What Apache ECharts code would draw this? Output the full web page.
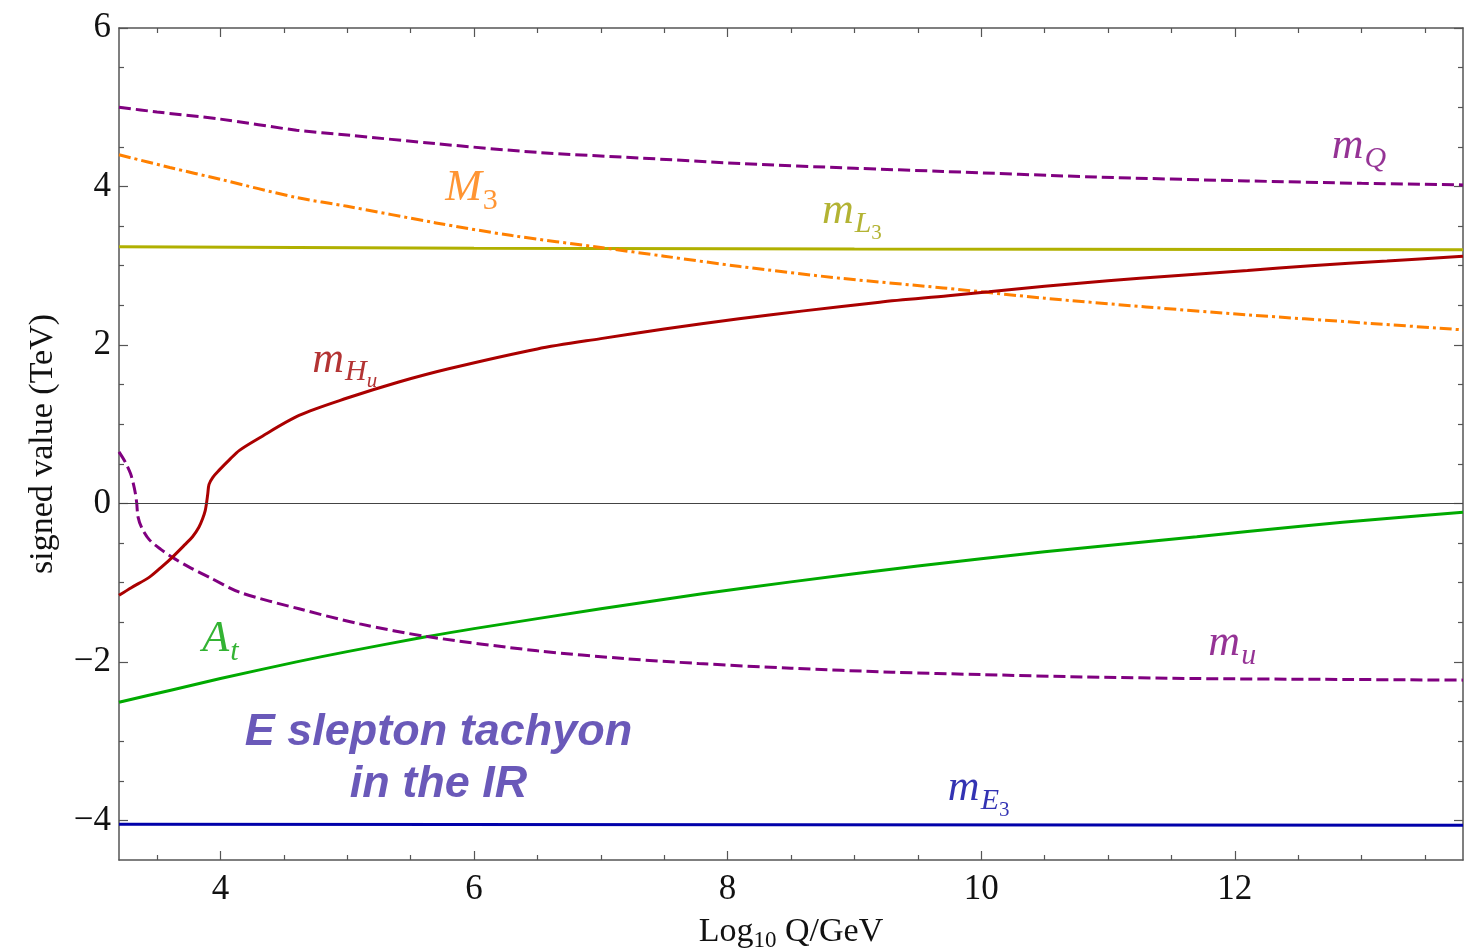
<!DOCTYPE html>
<html>
<head>
<meta charset="utf-8">
<script src="https://cdn.jsdelivr.net/npm/echarts@6/dist/echarts.min.js"></script>
<style>
html,body{margin:0;padding:0;background:#fff;}
#chart{width:1464px;height:948px;}
</style>
</head>
<body>
<div id="chart"></div>
<script>
// ---------- data ----------
const xMajorTicks = [4, 6, 8, 10, 12];
const xMinorTicks = [3.5, 4.5, 5, 5.5, 6.5, 7, 7.5, 8.5, 9, 9.5, 10.5, 11, 11.5, 12.5, 13, 13.5];
const yMajorTicks = [-4, -2, 0, 2, 4, 6];
const yMinorTicks = [-3.5, -3, -2.5, -1.5, -1, -0.5, 0.5, 1, 1.5, 2.5, 3, 3.5, 4.5, 5, 5.5];

const mQ_x = [3.2, 3.5, 4, 4.6, 5, 5.7, 6.5, 7.3, 8.1, 9, 9.7, 10.9, 12.1, 13, 13.8];
const mQ_y = [5.00, 4.94, 4.85, 4.71, 4.65, 4.54, 4.43, 4.36, 4.29, 4.23, 4.19, 4.12, 4.07, 4.04, 4.02];

const M3_x = [3.2, 3.6, 4, 4.6, 5, 5.7, 6.3, 7, 7.5, 8.1, 8.9, 9.7, 10.5, 11.3, 12.1, 13, 13.8];
const M3_y = [4.40, 4.24, 4.09, 3.86, 3.75, 3.54, 3.38, 3.23, 3.12, 2.99, 2.84, 2.72, 2.59, 2.48, 2.38, 2.28, 2.19];

const mL3_x = [3.2, 6, 9, 13.8];
const mL3_y = [3.24, 3.22, 3.21, 3.20];

const mHu_x = [3.2, 3.3, 3.44, 3.53, 3.62, 3.72, 3.78, 3.83, 3.86, 3.88, 3.89, 3.9, 3.91, 3.94, 3.99, 4.07, 4.15, 4.3, 4.62, 5, 5.4, 5.8, 6.5, 7, 7.5, 8.09, 8.6, 9.2, 9.74, 10.06, 10.5, 11, 11.5, 12.1, 12.6, 13.2, 13.8];
const mHu_y = [-1.16, -1.06, -0.93, -0.81, -0.68, -0.52, -0.42, -0.30, -0.19, -0.09, 0, 0.12, 0.24, 0.33, 0.42, 0.55, 0.67, 0.82, 1.11, 1.33, 1.53, 1.70, 1.95, 2.08, 2.20, 2.33, 2.43, 2.54, 2.62, 2.67, 2.74, 2.81, 2.87, 2.94, 3.00, 3.06, 3.12];

const At_x = [3.2, 3.6, 4, 4.6, 5, 5.6, 6, 7, 7.8, 8.5, 9.5, 10.5, 11.7, 12.5, 13.2, 13.8];
const At_y = [-2.51, -2.36, -2.21, -2.00, -1.87, -1.69, -1.58, -1.33, -1.14, -0.99, -0.79, -0.61, -0.42, -0.29, -0.19, -0.11];

const mu_x = [3.2, 3.25, 3.29, 3.31, 3.33, 3.34, 3.35, 3.38, 3.44, 3.53, 3.62, 3.75, 3.91, 4.15, 4.62, 5.1, 5.63, 6.5, 7.2, 7.77, 8.5, 9.3, 10, 10.8, 11.7, 12.7, 13.8];
const mu_y = [0.65, 0.52, 0.38, 0.27, 0.12, 0, -0.17, -0.31, -0.46, -0.58, -0.68, -0.80, -0.93, -1.12, -1.33, -1.52, -1.68, -1.86, -1.96, -2.02, -2.08, -2.13, -2.16, -2.19, -2.21, -2.22, -2.23];

const mE3_x = [3.2, 13.8];
const mE3_y = [-4.05, -4.06];

// curve labels: text and anchor (data coordinates)
const labelText = ['{b|m}{s|Q}', '{b|M}{r|3}', '{b|m}{s|L}{rr|3}', '{b|m}{s|H}{ss|u}', '{b|A}{s|t}', '{b|m}{s|u}', '{b|m}{s|E}{rr|3}'];
const labelX = [12.98, 5.98, 8.98, 4.98, 4.0, 11.98, 9.98];
const labelY = [4.50, 3.97, 3.68, 1.81, -1.72, -1.77, -3.60];
const noteText = 'E slepton tachyon\nin the IR';
const noteX = 5.72, noteY = -3.22;

// ---------- styles ----------
const C = {
  mQ: '#800080', M3: '#FF8000', mL3: '#B0B000', mHu: '#AA0000',
  At: '#00AA00', mu: '#800080', mE3: '#0000AA'
};
const labelColors = ['#7A007A', '#FF7A00', '#A0A000', '#A00000', '#00A000', '#7A007A', '#0000A0'];
const serif = '"Liberation Serif", "DejaVu Serif", serif';
const frame = '#555';

function zip(xs, ys) { return xs.map((x, i) => [x, ys[i]]); }
function minus(v) { return v < 0 ? '\u2212' + Math.abs(v) : String(v); }

function richFor(color) {
  return {
    b:  { fontFamily: serif, fontStyle: 'italic', fontSize: 44, lineHeight: 44, color: color, verticalAlign: 'top' },
    s:  { fontFamily: serif, fontStyle: 'italic', fontSize: 30, lineHeight: 30, color: color, verticalAlign: 'top', padding: [19, 0, 0, 1] },
    r:  { fontFamily: serif, fontSize: 30, lineHeight: 30, color: color, verticalAlign: 'top', padding: [19, 0, 0, 1] },
    ss: { fontFamily: serif, fontStyle: 'italic', fontSize: 21, lineHeight: 21, color: color, verticalAlign: 'top', padding: [33, 0, 0, 0] },
    rr: { fontFamily: serif, fontSize: 21, lineHeight: 21, color: color, verticalAlign: 'top', padding: [33, 0, 0, 0] }
  };
}

function xAxisDef(pos, values, len, withLabel, withLine) {
  return {
    type: 'value', position: pos, min: 3.2, max: 13.8,
    axisLine: { show: withLine, onZero: false, lineStyle: { color: frame, width: 1.5 } },
    axisTick: { show: true, inside: true, length: len, customValues: values, lineStyle: { color: frame, width: 1.2 } },
    axisLabel: withLabel ? { show: true, customValues: values, margin: 12, fontFamily: serif, fontSize: 35, color: '#111', formatter: v => minus(v) } : { show: false },
    splitLine: { show: false }
  };
}
function yAxisDef(pos, values, len, withLabel, withLine) {
  return {
    type: 'value', position: pos, min: -4.5, max: 6,
    axisLine: { show: withLine, onZero: false, lineStyle: { color: frame, width: 1.5 } },
    axisTick: { show: true, inside: true, length: len, customValues: values, lineStyle: { color: frame, width: 1.2 } },
    axisLabel: withLabel ? { show: true, customValues: values, margin: 8, fontFamily: serif, fontSize: 35, color: '#111', formatter: v => minus(v) } : { show: false },
    splitLine: { show: false }
  };
}

const xAxes = [
  xAxisDef('bottom', xMajorTicks, 9, true, true),
  xAxisDef('bottom', xMinorTicks, 5, false, false),
  xAxisDef('top', xMajorTicks, 9, false, true),
  xAxisDef('top', xMinorTicks, 5, false, false)
];
xAxes[0].name = 'Log{s|10} Q/GeV';
xAxes[0].nameLocation = 'middle';
xAxes[0].nameGap = 53;
xAxes[0].nameTextStyle = {
  fontFamily: serif, fontSize: 34, color: '#111',
  rich: { s: { fontFamily: serif, fontSize: 23, color: '#111', padding: [16, 0, 0, 0] } }
};

const yAxes = [
  yAxisDef('left', yMajorTicks, 9, true, true),
  yAxisDef('left', yMinorTicks, 5, false, false),
  yAxisDef('right', yMajorTicks, 9, false, true),
  yAxisDef('right', yMinorTicks, 5, false, false)
];
yAxes[0].name = 'signed value (TeV)';
yAxes[0].nameLocation = 'middle';
yAxes[0].nameGap = 59;
yAxes[0].nameTextStyle = { fontFamily: serif, fontSize: 34, color: '#111' };

function lineSeries(name, xs, ys, color, type, smooth) {
  return {
    name: name, type: 'line', xAxisIndex: 0, yAxisIndex: 0,
    data: zip(xs, ys), showSymbol: false, symbol: 'none',
    smooth: smooth, z: 3,
    lineStyle: { color: color, width: 3, type: type || 'solid', cap: 'butt' }
  };
}

const series = [
  lineSeries('mE3', mE3_x, mE3_y, C.mE3, 'solid', false),
  lineSeries('At', At_x, At_y, C.At, 'solid', 0.3),
  lineSeries('mu', mu_x, mu_y, C.mu, [12, 5], 0.3),
  lineSeries('mL3', mL3_x, mL3_y, C.mL3, 'solid', false),
  lineSeries('M3', M3_x, M3_y, C.M3, [12, 4, 3, 4], 0.3),
  lineSeries('mHu', mHu_x, mHu_y, C.mHu, 'solid', 0.3),
  lineSeries('mQ', mQ_x, mQ_y, C.mQ, [12, 5], 0.3)
];
series[0].markLine = {
  silent: true, symbol: 'none', label: { show: false },
  lineStyle: { color: '#444', width: 1.2, type: 'solid' },
  data: [{ yAxis: 0 }]
};

// curve name labels
labelText.forEach((t, i) => {
  series.push({
    type: 'scatter', xAxisIndex: 0, yAxisIndex: 0, symbolSize: 0, silent: true, z: 5,
    data: [[labelX[i], labelY[i]]],
    label: {
      show: true, position: 'inside', align: 'center', verticalAlign: 'middle',
      formatter: () => t, rich: richFor(labelColors[i])
    }
  });
});
series.push({
  type: 'scatter', xAxisIndex: 0, yAxisIndex: 0, symbolSize: 0, silent: true, z: 5,
  data: [[noteX, noteY]],
  label: {
    show: true, position: 'inside', align: 'center', verticalAlign: 'middle',
    formatter: () => noteText,
    fontFamily: '"Liberation Sans", Arial, sans-serif', fontWeight: 'bold', fontStyle: 'italic',
    fontSize: 45, lineHeight: 52, color: '#4530A8'
  }
});

const chart = echarts.init(document.getElementById('chart'), null, { renderer: 'canvas' });
chart.setOption({
  animation: false,
  backgroundColor: '#fff',
  grid: { left: 119, right: 1, top: 28, bottom: 88, containLabel: false, outerBoundsMode: 'none' },
  xAxis: xAxes,
  yAxis: yAxes,
  series: series
});
</script>
</body>
</html>
